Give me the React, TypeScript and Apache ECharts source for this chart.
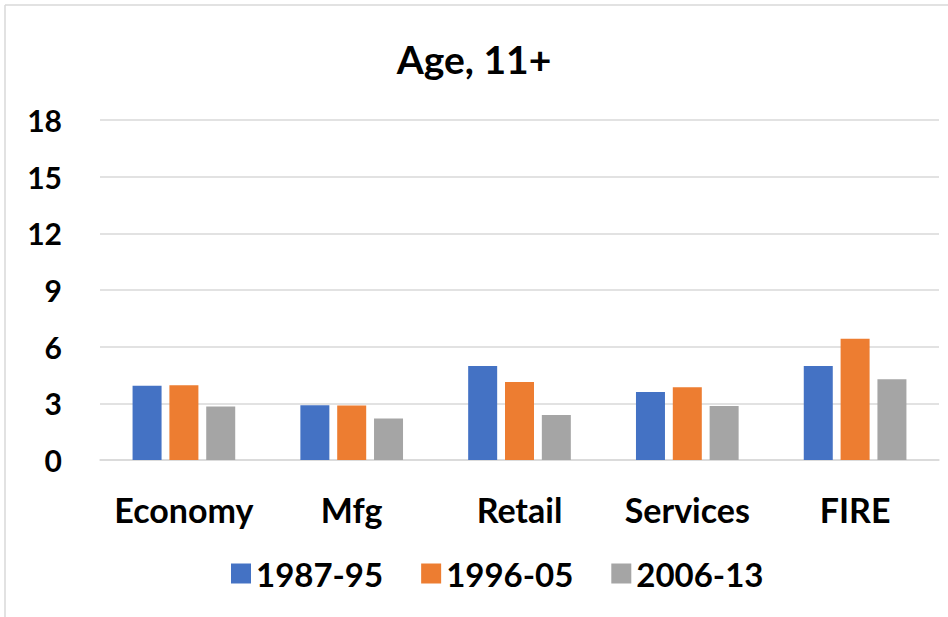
import React, { useEffect, useRef } from "react";
import * as echarts from "echarts";

const categories = ["Economy", "Mfg", "Retail", "Services", "FIRE"];
const seriesNames = ["1987-95", "1996-05", "2006-13"];
const s1987 = [3.93, 2.9, 4.97, 3.6, 4.98];
const s1996 = [3.96, 2.88, 4.13, 3.85, 6.42];
const s2006 = [2.83, 2.2, 2.38, 2.86, 4.27];
const colors = ["#4472C4", "#ED7D31", "#A5A5A5"];

const FONT = "Lato, 'Open Sans', sans-serif";

export default function App() {
  const ref = useRef<HTMLDivElement>(null);
  useEffect(() => {
    document.body.style.margin = "0";
    if (!ref.current) return;
    const chart = echarts.init(ref.current, null, { renderer: "svg" });
    const data = [s1987, s1996, s2006];
    chart.setOption({
      animation: false,
      backgroundColor: "#ffffff",
      title: {
        text: "Age, 11+",
        left: "center",
        top: 34,
        textStyle: { fontFamily: FONT, fontWeight: "bold", fontSize: 39, color: "#000" },
      },
      graphic: [
        {
          type: "line",
          shape: { x1: 5, y1: 5, x2: 948, y2: 5 },
          style: { stroke: "#d9d9d9", lineWidth: 1.5 },
          silent: true,
        },
        {
          type: "line",
          shape: { x1: 5, y1: 5, x2: 5, y2: 617 },
          style: { stroke: "#d9d9d9", lineWidth: 1.5 },
          silent: true,
        },
      ],
      legend: {
        data: seriesNames,
        bottom: 22,
        left: 226,
        itemWidth: 20,
        itemHeight: 20,
        itemGap: 38,
        icon: "rect",
        textStyle: { fontFamily: FONT, fontWeight: "bold", fontSize: 33, color: "#000" },
      },
      grid: { left: 100, right: 9, top: 120, bottom: 157 },
      xAxis: {
        type: "category",
        data: categories,
        axisLine: { show: true, lineStyle: { color: "#d9d9d9", width: 1.5 } },
        axisTick: { show: false },
        axisLabel: {
          interval: 0,
          hideOverlap: false,
          margin: 32,
          fontFamily: FONT,
          fontWeight: "bold",
          fontSize: 34,
          color: "#000",
        },
      },
      yAxis: {
        type: "value",
        min: 0,
        max: 18,
        interval: 3,
        axisLine: { show: false },
        axisTick: { show: false },
        splitLine: { lineStyle: { color: "#d9d9d9", width: 1.5 } },
        axisLabel: {
          margin: 38,
          fontFamily: FONT,
          fontWeight: "bold",
          fontSize: 30,
          color: "#000",
        },
      },
      series: seriesNames.map((name, i) => ({
        name,
        type: "bar",
        data: data[i],
        barWidth: 29,
        barGap: "27%",
        itemStyle: { color: colors[i] },
      })),
    });
    return () => chart.dispose();
  }, []);
  return <div ref={ref} style={{ width: 948, height: 617 }} />;
}
